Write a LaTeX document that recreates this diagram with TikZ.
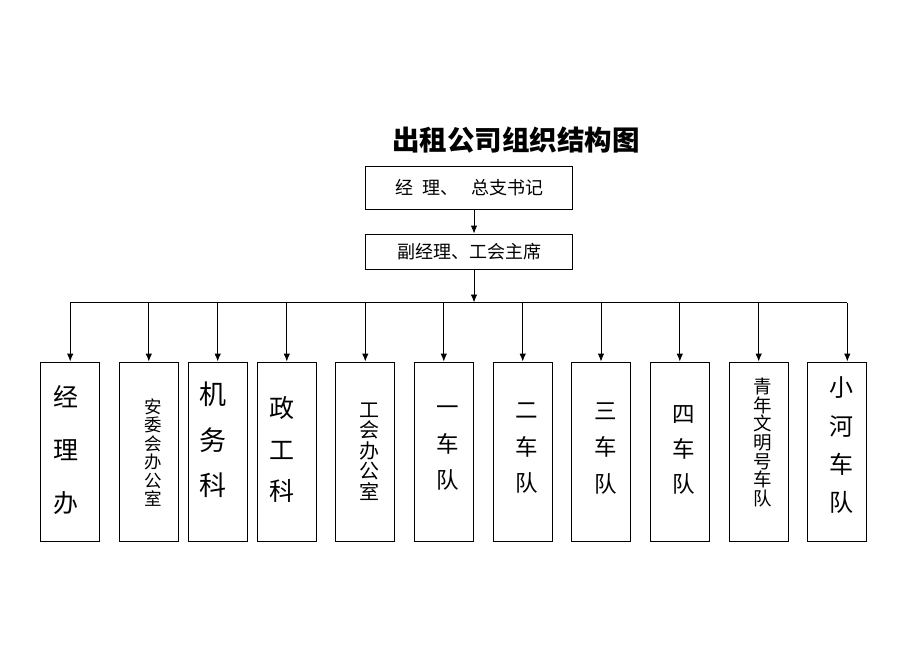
\documentclass[tikz,border=0pt]{standalone}
\usepackage{fontspec}
\setmainfont{Noto Sans CJK SC}
\usetikzlibrary{arrows.meta}
\tikzset{
  box/.style={draw=black, line width=0.9pt, minimum width=59pt, minimum height=179pt, inner sep=0pt},
  topbox/.style={draw=black, line width=0.9pt, minimum width=207pt, inner sep=0pt},
  vt/.style 2 args={align=center, inner sep=0pt, font=\fontsize{#1}{#2}\selectfont},
  conn/.style={line width=0.9pt, draw=black},
  arr/.style={conn, -{Latex[length=8pt,width=6.5pt]}}
}
\begin{document}
\begin{tikzpicture}[x=1pt,y=-1pt]
\useasboundingbox (0,0) rectangle (920,651);
% title
\node[font=\fontsize{27.5}{30}\selectfont\bfseries, inner sep=0pt] (title) at (516,140) {出租公司组织结构图};
% top boxes
\node[topbox, minimum height=43pt, font=\fontsize{18}{20}\selectfont] (top1) at (469,187.5) {经\hspace{9pt}理、\hspace{13pt}总支书记};
\node[topbox, minimum height=35pt, font=\fontsize{18}{20}\selectfont] (top2) at (469,251.5) {副经理、工会主席};
\coordinate (a1) at (474,209);
\coordinate (busmid) at (474,302.5);
\coordinate (busL) at (70.2,302.5);
\coordinate (busR) at (847.3,302.5);
\draw[arr] (a1) -- (a1 |- top2.north);
\draw[arr] (a1 |- top2.south) -- (busmid);
\draw[conn] (busL) -- (busR);
% bottom boxes
\node[box] (b1) at (70.2,451.5) {};
\node[box] (b2) at (148.8,451.5) {};
\node[box] (b3) at (217.7,451.5) {};
\node[box] (b4) at (286.8,451.5) {};
\node[box] (b5) at (365.3,451.5) {};
\node[box] (b6) at (443.8,451.5) {};
\node[box] (b7) at (522.7,451.5) {};
\node[box] (b8) at (601,451.5) {};
\node[box] (b9) at (679.8,451.5) {};
\node[box] (b10) at (758.7,451.5) {};
\node[box] (b11) at (837.3,451.5) {};
% arrows
\foreach \b in {b1,b2,b3,b4,b5,b6,b7,b8,b9,b10}{
  \draw[arr] (\b.north |- busL) -- (\b.north);
}
\draw[arr] (busR) -- (busR |- b11.north);
% labels
\node[vt={25}{53}] (t1) at (66,450) {经\\理\\办};
\node[vt={17.5}{18.5}] (t2) at (153.5,452.5) {安\\委\\会\\办\\公\\室};
\node[vt={27}{45.5}] (t3) at (212.5,440) {机\\务\\科};
\node[vt={25}{41.5}] (t4) at (281.5,449.5) {政\\工\\科};
\node[vt={20}{20.6}] (t5) at (369.5,451.5) {工\\会\\办\\公\\室};
\node[vt={22.5}{36.5}] (t6) at (447.5,448.5) {一\\车\\队};
\node[vt={22.5}{36.5}] (t7) at (527,448.5) {二\\车\\队};
\node[vt={22.5}{36.5}] (t8) at (606,448.5) {三\\车\\队};
\node[vt={22.5}{35}] (t9) at (683.5,450) {四\\车\\队};
\node[vt={18.5}{18.7}] (t10) at (762.5,442.5) {青\\年\\文\\明\\号\\车\\队};
\node[vt={24}{38.3}] (t11) at (841.5,445.5) {小\\河\\车\\队};
\end{tikzpicture}
\end{document}
